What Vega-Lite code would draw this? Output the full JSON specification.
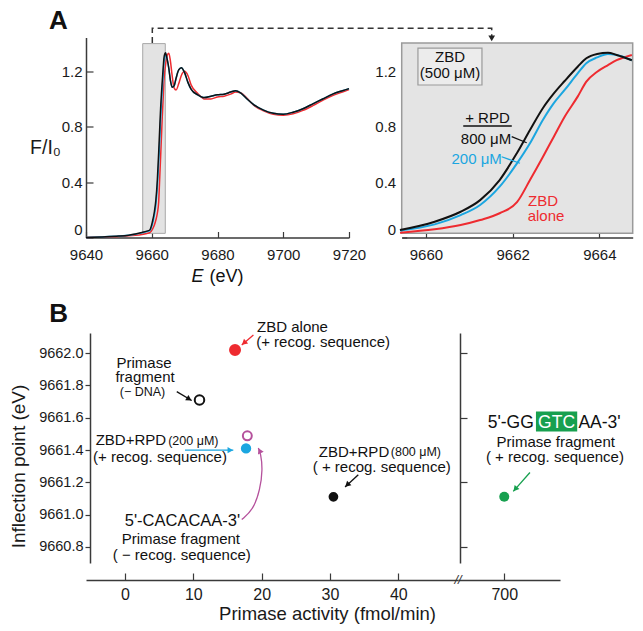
{
  "$schema": "https://vega.github.io/schema/vega-lite/v6.json",
  "autosize": {"type": "none"},
  "padding": {"left": 86, "top": 37.5, "right": 557, "bottom": 593.5},
  "background": "white",
  "config": {
    "font": "Liberation Sans",
    "view": {"stroke": null},
    "axis": {"grid": false, "domainColor": "#3a3a3a", "tickColor": "#3a3a3a", "labelColor": "#1a1a1a", "titleColor": "#1a1a1a", "labelFont": "Liberation Sans", "titleFont": "Liberation Sans", "titleFontWeight": "normal", "domainWidth": 1.5, "tickWidth": 1.2, "labelOverlap": false},
    "text": {"font": "Liberation Sans"}
  },
  "datasets": {
    "spec": [
      {"s":"ZBD alone","E":9640,"F":0.0},{"s":"ZBD alone","E":9645,"F":0.003},{"s":"ZBD alone","E":9650,"F":0.008},{"s":"ZBD alone","E":9653,"F":0.012},{"s":"ZBD alone","E":9655,"F":0.016},{"s":"ZBD alone","E":9657,"F":0.022},{"s":"ZBD alone","E":9658.5,"F":0.029},{"s":"ZBD alone","E":9659.4,"F":0.035},{"s":"ZBD alone","E":9660.2,"F":0.059},{"s":"ZBD alone","E":9660.8,"F":0.09},{"s":"ZBD alone","E":9661.25,"F":0.126},{"s":"ZBD alone","E":9661.7,"F":0.175},{"s":"ZBD alone","E":9662.1,"F":0.255},{"s":"ZBD alone","E":9662.4,"F":0.415},{"s":"ZBD alone","E":9662.7,"F":0.583},{"s":"ZBD alone","E":9662.95,"F":0.728},{"s":"ZBD alone","E":9663.2,"F":0.872},{"s":"ZBD alone","E":9663.5,"F":1.017},{"s":"ZBD alone","E":9663.7,"F":1.125},{"s":"ZBD alone","E":9663.95,"F":1.197},{"s":"ZBD alone","E":9664.2,"F":1.245},{"s":"ZBD alone","E":9664.4,"F":1.28},{"s":"ZBD alone","E":9664.75,"F":1.318},{"s":"ZBD alone","E":9665.2,"F":1.33},{"s":"ZBD alone","E":9665.7,"F":1.27},{"s":"ZBD alone","E":9666.2,"F":1.17},{"s":"ZBD alone","E":9666.8,"F":1.08},{"s":"ZBD alone","E":9667.4,"F":1.065},{"s":"ZBD alone","E":9668.2,"F":1.11},{"s":"ZBD alone","E":9669,"F":1.17},{"s":"ZBD alone","E":9670,"F":1.2},{"s":"ZBD alone","E":9671,"F":1.17},{"s":"ZBD alone","E":9672,"F":1.1},{"s":"ZBD alone","E":9674,"F":1.04},{"s":"ZBD alone","E":9676,"F":1.0},{"s":"ZBD alone","E":9678,"F":1.0},{"s":"ZBD alone","E":9680,"F":1.015},{"s":"ZBD alone","E":9682,"F":1.02},{"s":"ZBD alone","E":9684,"F":1.035},{"s":"ZBD alone","E":9685.5,"F":1.05},{"s":"ZBD alone","E":9687,"F":1.045},{"s":"ZBD alone","E":9689,"F":1.005},{"s":"ZBD alone","E":9691,"F":0.955},{"s":"ZBD alone","E":9694,"F":0.915},{"s":"ZBD alone","E":9697,"F":0.89},{"s":"ZBD alone","E":9700,"F":0.883},{"s":"ZBD alone","E":9703,"F":0.893},{"s":"ZBD alone","E":9706,"F":0.918},{"s":"ZBD alone","E":9709,"F":0.952},{"s":"ZBD alone","E":9712,"F":0.99},{"s":"ZBD alone","E":9715,"F":1.025},{"s":"ZBD alone","E":9718,"F":1.05},{"s":"ZBD alone","E":9720,"F":1.068},
      {"s":"200 μM","E":9640,"F":0.0},{"s":"200 μM","E":9645,"F":0.004},{"s":"200 μM","E":9650,"F":0.01},{"s":"200 μM","E":9653,"F":0.016},{"s":"200 μM","E":9655,"F":0.023},{"s":"200 μM","E":9657,"F":0.034},{"s":"200 μM","E":9658.5,"F":0.043},{"s":"200 μM","E":9659.4,"F":0.05},{"s":"200 μM","E":9660.2,"F":0.095},{"s":"200 μM","E":9660.8,"F":0.162},{"s":"200 μM","E":9661.25,"F":0.235},{"s":"200 μM","E":9661.7,"F":0.367},{"s":"200 μM","E":9662.1,"F":0.535},{"s":"200 μM","E":9662.4,"F":0.68},{"s":"200 μM","E":9662.7,"F":0.85},{"s":"200 μM","E":9662.95,"F":0.97},{"s":"200 μM","E":9663.2,"F":1.065},{"s":"200 μM","E":9663.5,"F":1.185},{"s":"200 μM","E":9663.7,"F":1.258},{"s":"200 μM","E":9663.95,"F":1.3},{"s":"200 μM","E":9664.2,"F":1.325},{"s":"200 μM","E":9664.4,"F":1.318},{"s":"200 μM","E":9664.75,"F":1.28},{"s":"200 μM","E":9665.2,"F":1.22},{"s":"200 μM","E":9665.7,"F":1.13},{"s":"200 μM","E":9666.2,"F":1.085},{"s":"200 μM","E":9666.8,"F":1.095},{"s":"200 μM","E":9667.4,"F":1.15},{"s":"200 μM","E":9668.2,"F":1.21},{"s":"200 μM","E":9669,"F":1.226},{"s":"200 μM","E":9670,"F":1.19},{"s":"200 μM","E":9671,"F":1.12},{"s":"200 μM","E":9672,"F":1.07},{"s":"200 μM","E":9674,"F":1.03},{"s":"200 μM","E":9676,"F":1.01},{"s":"200 μM","E":9678,"F":1.02},{"s":"200 μM","E":9680,"F":1.03},{"s":"200 μM","E":9682,"F":1.035},{"s":"200 μM","E":9684,"F":1.05},{"s":"200 μM","E":9685.5,"F":1.06},{"s":"200 μM","E":9687,"F":1.045},{"s":"200 μM","E":9689,"F":1.0},{"s":"200 μM","E":9691,"F":0.96},{"s":"200 μM","E":9694,"F":0.92},{"s":"200 μM","E":9697,"F":0.897},{"s":"200 μM","E":9700,"F":0.89},{"s":"200 μM","E":9703,"F":0.905},{"s":"200 μM","E":9706,"F":0.93},{"s":"200 μM","E":9709,"F":0.965},{"s":"200 μM","E":9712,"F":1.0},{"s":"200 μM","E":9715,"F":1.035},{"s":"200 μM","E":9718,"F":1.06},{"s":"200 μM","E":9720,"F":1.075},
      {"s":"800 μM","E":9640,"F":0.0},{"s":"800 μM","E":9645,"F":0.004},{"s":"800 μM","E":9650,"F":0.01},{"s":"800 μM","E":9653,"F":0.017},{"s":"800 μM","E":9655,"F":0.025},{"s":"800 μM","E":9657,"F":0.036},{"s":"800 μM","E":9658.5,"F":0.046},{"s":"800 μM","E":9659.4,"F":0.054},{"s":"800 μM","E":9660.2,"F":0.114},{"s":"800 μM","E":9660.8,"F":0.186},{"s":"800 μM","E":9661.25,"F":0.27},{"s":"800 μM","E":9661.7,"F":0.415},{"s":"800 μM","E":9662.1,"F":0.61},{"s":"800 μM","E":9662.4,"F":0.776},{"s":"800 μM","E":9662.7,"F":0.935},{"s":"800 μM","E":9662.95,"F":1.04},{"s":"800 μM","E":9663.2,"F":1.13},{"s":"800 μM","E":9663.5,"F":1.233},{"s":"800 μM","E":9663.7,"F":1.294},{"s":"800 μM","E":9663.95,"F":1.325},{"s":"800 μM","E":9664.2,"F":1.334},{"s":"800 μM","E":9664.4,"F":1.318},{"s":"800 μM","E":9664.75,"F":1.28},{"s":"800 μM","E":9665.2,"F":1.22},{"s":"800 μM","E":9665.7,"F":1.13},{"s":"800 μM","E":9666.2,"F":1.085},{"s":"800 μM","E":9666.8,"F":1.095},{"s":"800 μM","E":9667.4,"F":1.15},{"s":"800 μM","E":9668.2,"F":1.21},{"s":"800 μM","E":9669,"F":1.226},{"s":"800 μM","E":9670,"F":1.19},{"s":"800 μM","E":9671,"F":1.12},{"s":"800 μM","E":9672,"F":1.07},{"s":"800 μM","E":9674,"F":1.03},{"s":"800 μM","E":9676,"F":1.01},{"s":"800 μM","E":9678,"F":1.02},{"s":"800 μM","E":9680,"F":1.03},{"s":"800 μM","E":9682,"F":1.035},{"s":"800 μM","E":9684,"F":1.05},{"s":"800 μM","E":9685.5,"F":1.06},{"s":"800 μM","E":9687,"F":1.045},{"s":"800 μM","E":9689,"F":1.0},{"s":"800 μM","E":9691,"F":0.96},{"s":"800 μM","E":9694,"F":0.92},{"s":"800 μM","E":9697,"F":0.897},{"s":"800 μM","E":9700,"F":0.89},{"s":"800 μM","E":9703,"F":0.905},{"s":"800 μM","E":9706,"F":0.93},{"s":"800 μM","E":9709,"F":0.965},{"s":"800 μM","E":9712,"F":1.0},{"s":"800 μM","E":9715,"F":1.035},{"s":"800 μM","E":9718,"F":1.06},{"s":"800 μM","E":9720,"F":1.075}
    ],
    "boxA": [{"x1": 9657.25, "x2": 9664.12, "y1": 0.03, "y2": 1.4}],
    "conn": [{"i": 1, "x": 9660.17, "y": 1.404}, {"i": 2, "x": 9660.17, "y": 1.51}, {"i": 3, "x": 9763.41, "y": 1.51}, {"i": 4, "x": 9763.41, "y": 1.45}],
    "connHead": [{"x": 9763.41, "y": 1.437}],
    "labA": [{"t": "A", "x": 9631.6, "y": 1.56}],
    "titE": [{"t": "E", "x": 9673.92, "y": -0.285}],
    "titEv": [{"t": "(eV)", "x": 9682.74, "y": -0.285}],
    "boxZ": [{"x1": 9659.44, "x2": 9664.77, "y1": 0.03, "y2": 1.404}],
    "legZ": [{"x1": 9659.815, "x2": 9661.292, "y1": 1.101, "y2": 1.368}],
    "txtA": [
      {"t": "ZBD", "x": 9660.554, "y": 1.3, "s": "800 μM"},
      {"t": "(500 μM)", "x": 9660.554, "y": 1.191, "s": "800 μM"},
      {"t": "+ RPD", "x": 9661.419, "y": 0.866, "s": "800 μM"},
      {"t": "800 μM", "x": 9661.385, "y": 0.711, "s": "800 μM"},
      {"t": "200 μM", "x": 9661.17, "y": 0.567, "s": "200 μM"},
      {"t": "ZBD", "x": 9662.7, "y": 0.264, "s": "ZBD alone"},
      {"t": "alone", "x": 9662.77, "y": 0.152, "s": "ZBD alone"}
    ],
    "rulesA": [
      {"s": "800 μM", "x": 9660.86, "x2": 9661.98, "y": 0.805, "y2": 0.805},
      {"s": "800 μM", "x": 9661.978, "x2": 9662.324, "y": 0.728, "y2": 0.684},
      {"s": "200 μM", "x": 9661.747, "x2": 9662.169, "y": 0.583, "y2": 0.536}
    ],
    "ptsB": [
      {"x": 16.1, "y": 9662.02, "k": "ZBD alone"},
      {"x": 10.9, "y": 9661.71, "k": "Primase fragment (− DNA)"},
      {"x": 17.9, "y": 9661.488, "k": "Primase fragment (− recog. sequence)"},
      {"x": 17.71, "y": 9661.41, "k": "ZBD+RPD 200 μM"},
      {"x": 30.5, "y": 9661.11, "k": "ZBD+RPD 800 μM"},
      {"x": 700, "y": 9661.11, "k": "Primase fragment (+ recog. sequence)"}
    ],
    "arrB": [
      {"k": "ZBD alone", "i": 1, "x": 18.79, "y": 9662.113}, {"k": "ZBD alone", "i": 2, "x": 17.08, "y": 9662.051},
      {"k": "Primase fragment (− DNA)", "i": 1, "x": 7.57, "y": 9661.762}, {"k": "Primase fragment (− DNA)", "i": 2, "x": 9.76, "y": 9661.707},
      {"k": "ZBD+RPD 200 μM", "i": 1, "x": 8.78, "y": 9661.399}, {"k": "ZBD+RPD 200 μM", "i": 2, "x": 15.85, "y": 9661.399},
      {"k": "Primase fragment (− recog. sequence)", "i": 1, "x": 17.08, "y": 9660.969}, {"k": "Primase fragment (− recog. sequence)", "i": 2, "x": 18.78, "y": 9661.031}, {"k": "Primase fragment (− recog. sequence)", "i": 3, "x": 19.76, "y": 9661.154}, {"k": "Primase fragment (− recog. sequence)", "i": 4, "x": 20.15, "y": 9661.278}, {"k": "Primase fragment (− recog. sequence)", "i": 5, "x": 19.86, "y": 9661.381}, {"k": "Primase fragment (− recog. sequence)", "i": 6, "x": 19.51, "y": 9661.412},
      {"k": "ZBD+RPD 800 μM", "i": 1, "x": 34.14, "y": 9661.247}, {"k": "ZBD+RPD 800 μM", "i": 2, "x": 32.2, "y": 9661.171},
      {"k": "Primase fragment (+ recog. sequence)", "i": 1, "x": 703.76, "y": 9661.261}, {"k": "Primase fragment (+ recog. sequence)", "i": 2, "x": 701.32, "y": 9661.144}
    ],
    "headB": [
      {"k": "ZBD alone", "x": 17.41, "y": 9662.063},
      {"k": "Primase fragment (− DNA)", "x": 9.385, "y": 9661.716},
      {"k": "ZBD+RPD 200 μM", "x": 15.41, "y": 9661.399},
      {"k": "Primase fragment (− recog. sequence)", "x": 19.7, "y": 9661.396},
      {"k": "ZBD+RPD 800 μM", "x": 32.52, "y": 9661.184},
      {"k": "Primase fragment (+ recog. sequence)", "x": 701.61, "y": 9661.158}
    ],
    "txtB": [
      {"t": "ZBD alone", "x": 24.51, "y": 9662.16},
      {"t": "(+ recog. sequence)", "x": 28.98, "y": 9662.067},
      {"t": "Primase", "x": 2.78, "y": 9661.938},
      {"t": "fragment", "x": 2.93, "y": 9661.85},
      {"t": "ZBD+RPD", "x": 0.86, "y": 9661.459},
      {"t": "(+ recog. sequence)", "x": 5.12, "y": 9661.355},
      {"t": "Primase fragment", "x": 8.17, "y": 9660.851},
      {"t": "( − recog. sequence)", "x": 8.3, "y": 9660.752},
      {"t": "ZBD+RPD", "x": 33.51, "y": 9661.386},
      {"t": "( + recog. sequence)", "x": 37.57, "y": 9661.294}
    ],
    "txtBs": [
      {"t": "(− DNA)", "x": 2.56, "y": 9661.758},
      {"t": "(200 μM)", "x": 10.0, "y": 9661.453},
      {"t": "(800 μM)", "x": 42.57, "y": 9661.386}
    ],
    "seqB": [{"t": "5'-CACACAA-3'", "x": 8.41, "y": 9660.958}],
    "labB": [{"t": "B", "x": -9.73, "y": 9662.243}],
    "txtR": [
      {"t": "Primase fragment", "x": 707.54, "y": 9661.448},
      {"t": "( + recog. sequence)", "x": 707.42, "y": 9661.355}
    ],
    "seqR": [{"t": "5'-GG", "x": 700.95, "y": 9661.567}, {"t": "AA-3'", "x": 713.95, "y": 9661.567}],
    "gtc": [{"t": "GTC", "x": 707.66, "y": 9661.567, "x1": 704.64, "x2": 710.68, "y1": 9661.639, "y2": 9661.515}],
    "brk": [{"t": "//", "x": 693.23, "y": 9660.595}]
  },
  "spacing": 95.5,
  "bounds": "flush",
  "vconcat": [
    {
      "width": 546.7,
      "height": 200,
      "resolve": {"scale": {"x": "independent", "y": "independent"}, "axis": {"x": "independent", "y": "independent"}},
      "layer": [
        {
          "layer": [
            {
              "data": {"name": "boxA"},
              "mark": {"type": "rect", "fill": "#e3e3e3", "stroke": "#a8a8a8", "strokeWidth": 1},
              "encoding": {
                "x": {"field": "x1", "type": "quantitative", "scale": {"domain": [9640, 9720], "range": [0, 263], "nice": false, "zero": false},
                  "axis": {"orient": "bottom", "values": [9640, 9660, 9680, 9700, 9720], "format": "d", "tickSize": -6, "labelPadding": 15.5, "labelFontSize": 15, "labelFlush": false, "title": null}},
                "x2": {"field": "x2"},
                "y": {"field": "y1", "type": "quantitative", "scale": {"domain": [0, 1.444], "nice": false, "zero": false},
                  "axis": {"orient": "left", "values": [0, 0.2, 0.4, 0.6, 0.8, 1, 1.2], "format": ".1~f", "labelExpr": "round(datum.value*10)%4==0 ? datum.label : ''", "tickSize": -7, "labelPadding": 11, "labelFontSize": 15, "labelFlush": true, "title": "F/I₀", "titleAngle": 0, "titleFontSize": 19.5, "titleX": -41, "titleY": 110, "titleAlign": "center", "titleBaseline": "middle"}},
                "y2": {"field": "y2"}
              }
            },
            {
              "data": {"name": "spec"},
              "mark": {"type": "line", "strokeWidth": 1.5, "interpolate": "monotone"},
              "encoding": {
                "x": {"field": "E", "type": "quantitative"},
                "y": {"field": "F", "type": "quantitative"},
                "color": {"field": "s", "type": "nominal", "scale": {"domain": ["ZBD alone", "200 μM", "800 μM"], "range": ["#ee2b30", "#1ba6e0", "#111111"]}, "legend": null}
              }
            },
            {
              "data": {"name": "conn"},
              "mark": {"type": "line", "strokeDash": [6, 4], "color": "#333333", "strokeWidth": 1.5, "clip": false},
              "encoding": {
                "x": {"field": "x", "type": "quantitative"},
                "y": {"field": "y", "type": "quantitative"},
                "order": {"field": "i"}
              }
            },
            {
              "data": {"name": "connHead"},
              "mark": {"type": "point", "shape": "triangle-down", "filled": true, "color": "#222222", "size": 45, "opacity": 1},
              "encoding": {
                "x": {"field": "x", "type": "quantitative"},
                "y": {"field": "y", "type": "quantitative"}
              }
            },
            {
              "data": {"name": "labA"},
              "mark": {"type": "text", "fontSize": 26, "fontWeight": "bold", "align": "center", "baseline": "middle", "color": "#111111"},
              "encoding": {
                "x": {"field": "x", "type": "quantitative"},
                "y": {"field": "y", "type": "quantitative"},
                "text": {"field": "t"}
              }
            },
            {
              "data": {"name": "titE"},
              "mark": {"type": "text", "fontSize": 18, "fontStyle": "italic", "align": "center", "baseline": "middle", "color": "#111111"},
              "encoding": {
                "x": {"field": "x", "type": "quantitative"},
                "y": {"field": "y", "type": "quantitative"},
                "text": {"field": "t"}
              }
            },
            {
              "data": {"name": "titEv"},
              "mark": {"type": "text", "fontSize": 18, "align": "center", "baseline": "middle", "color": "#111111"},
              "encoding": {
                "x": {"field": "x", "type": "quantitative"},
                "y": {"field": "y", "type": "quantitative"},
                "text": {"field": "t"}
              }
            }
          ]
        },
        {
          "layer": [
            {
              "data": {"name": "boxZ"},
              "mark": {"type": "rect", "fill": "#e4e4e4", "stroke": "#9a9a9a", "strokeWidth": 1.5},
              "encoding": {
                "x": {"field": "x1", "type": "quantitative", "scale": {"domain": [9659.44, 9664.77], "range": [315.7, 546.7], "nice": false, "zero": false},
                  "axis": {"orient": "bottom", "values": [9660, 9662, 9664], "format": "d", "tickSize": -5, "labelPadding": 14.5, "labelFontSize": 15, "labelFlush": false, "title": null}},
                "x2": {"field": "x2"},
                "y": {"field": "y1", "type": "quantitative", "scale": {"domain": [0, 1.444], "nice": false, "zero": false},
                  "axis": {"orient": "left", "offset": -315.7, "values": [0, 0.2, 0.4, 0.6, 0.8, 1, 1.2], "format": ".1~f", "labelExpr": "round(datum.value*10)%4==0 ? datum.label : ''", "tickSize": -5, "domain": false, "labelPadding": 11, "labelFontSize": 15, "labelFlush": true, "title": null}},
                "y2": {"field": "y2"}
              }
            },
            {
              "data": {"name": "legZ"},
              "mark": {"type": "rect", "fill": "#ececec", "stroke": "#9a9a9a", "strokeWidth": 1.2},
              "encoding": {
                "x": {"field": "x1", "type": "quantitative"},
                "x2": {"field": "x2"},
                "y": {"field": "y1", "type": "quantitative"},
                "y2": {"field": "y2"}
              }
            },
            {
              "data": {"name": "spec"},
              "transform": [{"filter": "datum.E >= 9659.4 && datum.E <= 9664.75"}],
              "mark": {"type": "line", "strokeWidth": 2, "interpolate": "monotone"},
              "encoding": {
                "x": {"field": "E", "type": "quantitative"},
                "y": {"field": "F", "type": "quantitative"},
                "color": {"field": "s", "type": "nominal", "scale": {"domain": ["ZBD alone", "200 μM", "800 μM"], "range": ["#ee2b30", "#1ba6e0", "#111111"]}, "legend": null}
              }
            },
            {
              "data": {"name": "rulesA"},
              "mark": {"type": "rule", "strokeWidth": 1.3},
              "encoding": {
                "x": {"field": "x", "type": "quantitative"},
                "x2": {"field": "x2"},
                "y": {"field": "y", "type": "quantitative"},
                "y2": {"field": "y2"},
                "color": {"field": "s", "type": "nominal", "legend": null, "scale": {"domain": ["ZBD alone", "200 μM", "800 μM"], "range": ["#ee2b30", "#1ba6e0", "#111111"]}}
              }
            },
            {
              "data": {"name": "txtA"},
              "mark": {"type": "text", "fontSize": 15, "align": "center", "baseline": "middle"},
              "encoding": {
                "x": {"field": "x", "type": "quantitative"},
                "y": {"field": "y", "type": "quantitative"},
                "text": {"field": "t"},
                "color": {"field": "s", "type": "nominal", "legend": null, "scale": {"domain": ["ZBD alone", "200 μM", "800 μM"], "range": ["#ee2b30", "#1ba6e0", "#111111"]}}
              }
            }
          ]
        }
      ]
    },
    {
      "width": 474,
      "height": 230,
      "resolve": {"scale": {"x": "independent", "y": "independent"}, "axis": {"x": "independent", "y": "independent"}},
      "layer": [
        {
          "layer": [
            {
              "data": {"name": "ptsB"},
              "transform": [{"filter": "datum.x < 100"}],
              "mark": {"type": "point", "filled": true, "strokeWidth": 2, "opacity": 1},
              "encoding": {
                "x": {"field": "x", "type": "quantitative", "scale": {"domain": [-5.71, 48.73], "range": [0, 372], "nice": false, "zero": false},
                  "axis": {"orient": "bottom", "values": [0, 10, 20, 30, 40], "format": "d", "tickSize": -7, "offset": 17, "labelPadding": 13, "labelFontSize": 16, "labelFlush": false, "title": "Primase activity (fmol/min)", "titleFontSize": 18.5, "titleX": 241, "titleY": 33, "titleAlign": "center", "titleBaseline": "middle"}},
                "y": {"field": "y", "type": "quantitative", "scale": {"domain": [9660.7, 9662.125], "nice": false, "zero": false},
                  "axis": {"orient": "left", "values": [9660.8, 9661.0, 9661.2, 9661.4, 9661.6, 9661.8, 9662.0], "format": ".1f", "labelExpr": "indexof(['9660.8','9661.2','9661.6','9662.0'], datum.label) >= 0 ? datum.label : ''", "labelOverlap": false, "labelBound": false, "tickSize": 5, "offset": -4, "labelPadding": 2, "labelFontSize": 14.5, "title": "Inflection point (eV)", "titleFontSize": 19, "titleX": -72, "titleY": 133, "titleAlign": "center", "titleBaseline": "middle"}},
                "fill": {"field": "k", "type": "nominal", "legend": null, "scale": {"domain": ["ZBD alone", "Primase fragment (− DNA)", "Primase fragment (− recog. sequence)", "ZBD+RPD 200 μM", "ZBD+RPD 800 μM"], "range": ["#ee2b30", "#ffffff", "#ffffff", "#1ba6e0", "#111111"]}},
                "stroke": {"field": "k", "type": "nominal", "legend": null, "scale": {"domain": ["ZBD alone", "Primase fragment (− DNA)", "Primase fragment (− recog. sequence)", "ZBD+RPD 200 μM", "ZBD+RPD 800 μM"], "range": ["#ee2b30", "#111111", "#b5519c", "#1ba6e0", "#111111"]}},
                "size": {"field": "k", "type": "nominal", "legend": null, "scale": {"domain": ["ZBD alone", "Primase fragment (− DNA)", "Primase fragment (− recog. sequence)", "ZBD+RPD 200 μM", "ZBD+RPD 800 μM"], "range": [100, 60, 60, 100, 100]}}
              }
            },
            {
              "data": {"name": "arrB"},
              "transform": [{"filter": {"field": "k", "equal": "ZBD alone"}}],
              "mark": {"type": "line", "strokeWidth": 1.3, "color": "#ee2b30"},
              "encoding": {"x": {"field": "x", "type": "quantitative"}, "y": {"field": "y", "type": "quantitative"}, "order": {"field": "i"}}
            },
            {
              "data": {"name": "arrB"},
              "transform": [{"filter": {"field": "k", "oneOf": ["Primase fragment (− DNA)", "ZBD+RPD 800 μM"]}}],
              "mark": {"type": "line", "strokeWidth": 1.3, "color": "#111111"},
              "encoding": {"x": {"field": "x", "type": "quantitative"}, "y": {"field": "y", "type": "quantitative"}, "order": {"field": "i"}, "detail": {"field": "k"}}
            },
            {
              "data": {"name": "arrB"},
              "transform": [{"filter": {"field": "k", "equal": "ZBD+RPD 200 μM"}}],
              "mark": {"type": "line", "strokeWidth": 1.3, "color": "#1ba6e0"},
              "encoding": {"x": {"field": "x", "type": "quantitative"}, "y": {"field": "y", "type": "quantitative"}, "order": {"field": "i"}}
            },
            {
              "data": {"name": "arrB"},
              "transform": [{"filter": {"field": "k", "equal": "Primase fragment (− recog. sequence)"}}],
              "mark": {"type": "line", "strokeWidth": 1.3, "color": "#b5519c", "interpolate": "basis"},
              "encoding": {"x": {"field": "x", "type": "quantitative"}, "y": {"field": "y", "type": "quantitative"}, "order": {"field": "i"}}
            },
            {
              "data": {"name": "headB"},
              "transform": [{"filter": {"field": "k", "equal": "ZBD alone"}}],
              "mark": {"type": "point", "shape": "triangle-up", "filled": true, "size": 40, "opacity": 1, "color": "#ee2b30", "angle": 229},
              "encoding": {"x": {"field": "x", "type": "quantitative"}, "y": {"field": "y", "type": "quantitative"}}
            },
            {
              "data": {"name": "headB"},
              "transform": [{"filter": {"field": "k", "equal": "Primase fragment (− DNA)"}}],
              "mark": {"type": "point", "shape": "triangle-up", "filled": true, "size": 40, "opacity": 1, "color": "#111111", "angle": 121},
              "encoding": {"x": {"field": "x", "type": "quantitative"}, "y": {"field": "y", "type": "quantitative"}}
            },
            {
              "data": {"name": "headB"},
              "transform": [{"filter": {"field": "k", "equal": "ZBD+RPD 200 μM"}}],
              "mark": {"type": "point", "shape": "triangle-up", "filled": true, "size": 40, "opacity": 1, "color": "#1ba6e0", "angle": 90},
              "encoding": {"x": {"field": "x", "type": "quantitative"}, "y": {"field": "y", "type": "quantitative"}}
            },
            {
              "data": {"name": "headB"},
              "transform": [{"filter": {"field": "k", "equal": "Primase fragment (− recog. sequence)"}}],
              "mark": {"type": "point", "shape": "triangle-up", "filled": true, "size": 40, "opacity": 1, "color": "#b5519c", "angle": 334},
              "encoding": {"x": {"field": "x", "type": "quantitative"}, "y": {"field": "y", "type": "quantitative"}}
            },
            {
              "data": {"name": "headB"},
              "transform": [{"filter": {"field": "k", "equal": "ZBD+RPD 800 μM"}}],
              "mark": {"type": "point", "shape": "triangle-up", "filled": true, "size": 40, "opacity": 1, "color": "#111111", "angle": 227},
              "encoding": {"x": {"field": "x", "type": "quantitative"}, "y": {"field": "y", "type": "quantitative"}}
            },
            {
              "data": {"name": "txtB"},
              "mark": {"type": "text", "fontSize": 15, "align": "center", "baseline": "middle", "color": "#111111"},
              "encoding": {"x": {"field": "x", "type": "quantitative"}, "y": {"field": "y", "type": "quantitative"}, "text": {"field": "t"}}
            },
            {
              "data": {"name": "txtBs"},
              "mark": {"type": "text", "fontSize": 12.5, "align": "center", "baseline": "middle", "color": "#111111"},
              "encoding": {"x": {"field": "x", "type": "quantitative"}, "y": {"field": "y", "type": "quantitative"}, "text": {"field": "t"}}
            },
            {
              "data": {"name": "seqB"},
              "mark": {"type": "text", "fontSize": 16.5, "align": "center", "baseline": "middle", "color": "#111111"},
              "encoding": {"x": {"field": "x", "type": "quantitative"}, "y": {"field": "y", "type": "quantitative"}, "text": {"field": "t"}}
            }
          ]
        },
        {
          "layer": [
            {
              "data": {"name": "labB"},
              "mark": {"type": "text", "fontSize": 26, "fontWeight": "bold", "align": "center", "baseline": "middle", "color": "#111111"},
              "encoding": {
                "x": {"field": "x", "type": "quantitative", "scale": {"domain": [-5.71, 48.73], "range": [0, 372], "nice": false, "zero": false}, "axis": null},
                "y": {"field": "y", "type": "quantitative", "scale": {"domain": [9660.7, 9662.125], "nice": false, "zero": false},
                  "axis": {"orient": "left", "values": [9661.0, 9661.4, 9661.8], "format": ".1f", "labelOverlap": false, "domain": false, "tickSize": 5, "offset": -4, "labelPadding": 2, "labelFontSize": 14.5, "title": null}},
                "text": {"field": "t"}
              }
            }
          ]
        },
        {
          "layer": [
            {
              "data": {"name": "gtc"},
              "mark": {"type": "rect", "fill": "#17a04f"},
              "encoding": {
                "x": {"field": "x1", "type": "quantitative", "scale": {"domain": [693.23, 708.16], "range": [372, 474], "nice": false, "zero": false},
                  "axis": {"orient": "bottom", "values": [700], "format": "d", "tickSize": -7, "offset": 17, "labelPadding": 13, "labelFontSize": 16, "labelFlush": false, "title": null}},
                "x2": {"field": "x2"},
                "y": {"field": "y1", "type": "quantitative", "scale": {"domain": [9660.7, 9662.125], "nice": false, "zero": false},
                  "axis": {"orient": "left", "offset": -374, "values": [9660.8, 9661.0, 9661.2, 9661.4, 9661.6, 9661.8, 9662.0], "labels": false, "tickSize": -7, "title": null}},
                "y2": {"field": "y2"}
              }
            },
            {
              "data": {"name": "ptsB"},
              "transform": [{"filter": "datum.x > 100"}],
              "mark": {"type": "point", "filled": true, "size": 100, "strokeWidth": 2, "color": "#17a04f", "opacity": 1},
              "encoding": {"x": {"field": "x", "type": "quantitative"}, "y": {"field": "y", "type": "quantitative"}}
            },
            {
              "data": {"name": "arrB"},
              "transform": [{"filter": "datum.x > 100"}],
              "mark": {"type": "line", "strokeWidth": 1.3, "color": "#17a04f"},
              "encoding": {"x": {"field": "x", "type": "quantitative"}, "y": {"field": "y", "type": "quantitative"}, "order": {"field": "i"}}
            },
            {
              "data": {"name": "headB"},
              "transform": [{"filter": "datum.x > 100"}],
              "mark": {"type": "point", "shape": "triangle-up", "filled": true, "size": 40, "opacity": 1, "color": "#17a04f", "angle": 221},
              "encoding": {"x": {"field": "x", "type": "quantitative"}, "y": {"field": "y", "type": "quantitative"}}
            },
            {
              "data": {"name": "txtR"},
              "mark": {"type": "text", "fontSize": 15, "align": "center", "baseline": "middle", "color": "#111111"},
              "encoding": {"x": {"field": "x", "type": "quantitative"}, "y": {"field": "y", "type": "quantitative"}, "text": {"field": "t"}}
            },
            {
              "data": {"name": "seqR"},
              "mark": {"type": "text", "fontSize": 17.5, "align": "center", "baseline": "middle", "color": "#111111"},
              "encoding": {"x": {"field": "x", "type": "quantitative"}, "y": {"field": "y", "type": "quantitative"}, "text": {"field": "t"}}
            },
            {
              "data": {"name": "gtc"},
              "mark": {"type": "text", "fontSize": 17.5, "align": "center", "baseline": "middle", "color": "#ffffff"},
              "encoding": {"x": {"field": "x", "type": "quantitative"}, "y": {"field": "y", "type": "quantitative"}, "text": {"field": "t"}}
            },
            {
              "data": {"name": "brk"},
              "mark": {"type": "text", "fontSize": 13, "fontStyle": "italic", "align": "center", "baseline": "middle", "color": "#333333"},
              "encoding": {"x": {"field": "x", "type": "quantitative"}, "y": {"field": "y", "type": "quantitative"}, "text": {"field": "t"}}
            }
          ]
        }
      ]
    }
  ]
}
